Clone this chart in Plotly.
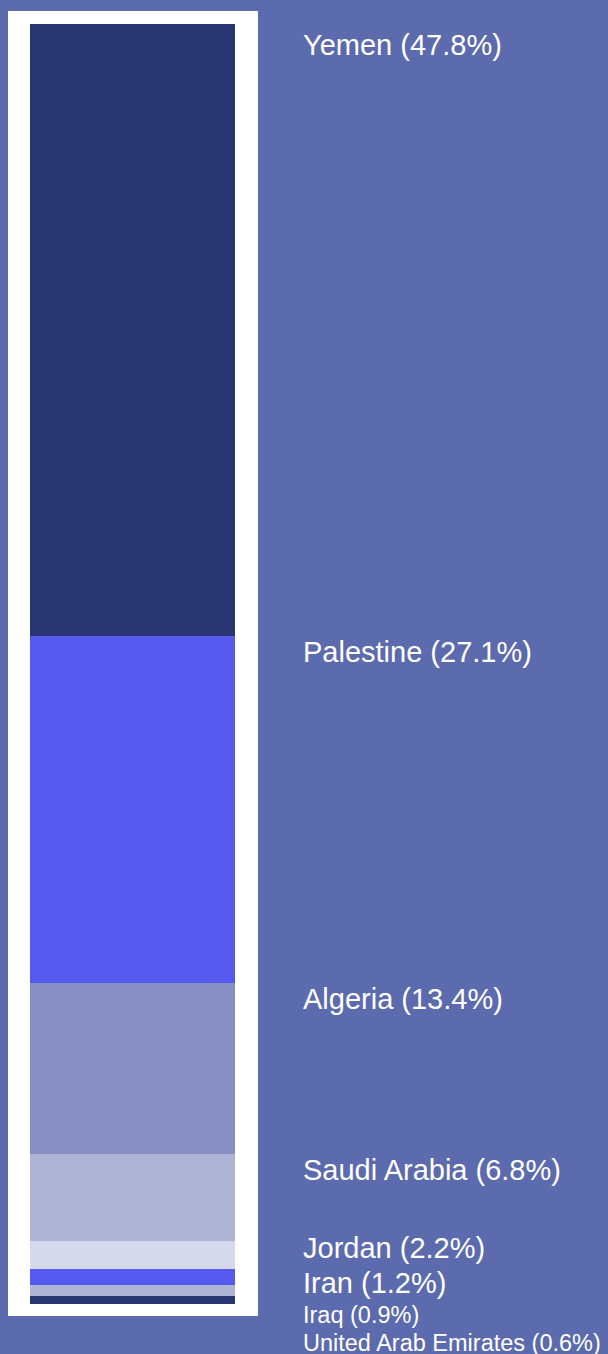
import plotly.graph_objects as go

countries = ["Yemen", "Palestine", "Algeria", "Saudi Arabia", "Jordan", "Iran", "Iraq", "United Arab Emirates"]
shares = [47.8, 27.1, 13.4, 6.8, 2.2, 1.2, 0.9, 0.6]
colors = ["#293571", "#5659ee", "#888fc2", "#adb4d6", "#d6d8ec", "#5659ee", "#adb4d6", "#293571"]

BG = "#5c6aae"
W, H = 608, 1354
M_T, M_B, M_L, M_R = 24, 50, 30, 373
PLOT_H = H - M_T - M_B
PLOT_W = W - M_L - M_R

fig = go.Figure()
for name, val, col in zip(countries, shares, colors):
    fig.add_trace(
        go.Bar(
            x=[0],
            y=[val],
            name=name,
            marker=dict(color=col, line=dict(width=0)),
            hoverinfo="name",
        )
    )


# label placement: at the top of each segment, pushed apart so they don't overlap
def px_to_paper(py):
    return 1 - (py - M_T) / PLOT_H


total = sum(shares)
sizes = [29 if v >= 1 else 23.5 for v in shares]
heights = [1.2 * s for s in sizes]
tops = []
cum = 0
for v, s in zip(shares, sizes):
    tops.append(M_T + cum / total * PLOT_H - 1)
    cum += v

top_limit, bottom_limit = 28, 1357
for i in range(len(tops)):
    lo = top_limit if i == 0 else tops[i - 1] + heights[i - 1]
    tops[i] = max(tops[i], lo)
for i in range(len(tops) - 1, -1, -1):
    hi = bottom_limit if i == len(tops) - 1 else tops[i + 1]
    tops[i] = min(tops[i], hi - heights[i])

for name, v, s, t in zip(countries, shares, sizes, tops):
    fig.add_annotation(
        text=f"{name} ({v}%)",
        xref="paper",
        yref="paper",
        x=(302 - M_L) / PLOT_W,
        y=px_to_paper(t),
        xanchor="left",
        yanchor="top",
        showarrow=False,
        font=dict(size=s, color="white", family="Liberation Sans, Arial, sans-serif"),
        borderpad=0,
    )

# white frame round the bar
fig.add_shape(
    type="rect",
    xref="paper",
    yref="paper",
    x0=(8 - M_L) / PLOT_W,
    x1=(258 - M_L) / PLOT_W,
    y0=px_to_paper(1316),
    y1=px_to_paper(11),
    fillcolor="white",
    line=dict(width=0),
    layer="below",
)

fig.update_layout(
    width=W,
    height=H,
    barmode="stack",
    bargap=0,
    showlegend=False,
    paper_bgcolor=BG,
    plot_bgcolor=BG,
    margin=dict(t=M_T, b=M_B, l=M_L, r=M_R),
    xaxis=dict(visible=False, range=[-0.5, 0.5], fixedrange=True),
    yaxis=dict(visible=False, range=[total, 0], fixedrange=True),
)

page_css = (
    "document.body.style.margin='0';"
    "document.body.style.overflow='hidden';"
    f"document.body.style.background='{BG}';"
)
fig.write_html("out.html", config={"displayModeBar": False}, post_script=page_css)
